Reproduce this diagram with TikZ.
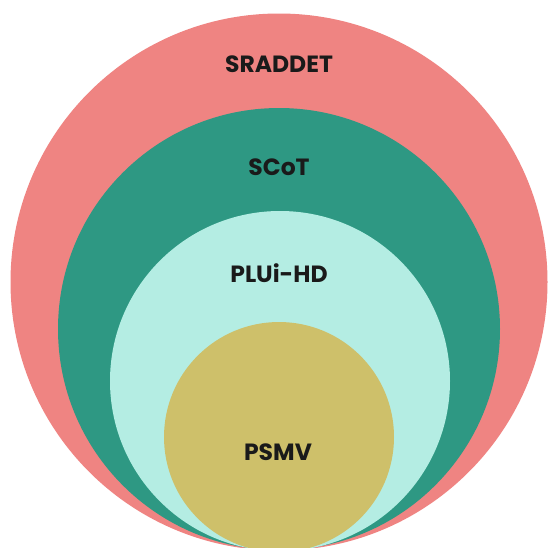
\documentclass[tikz,border=0pt]{standalone}
\usepackage{fontspec}
\setmainfont{Poppins}
\definecolor{salmon}{HTML}{EF8482}
\definecolor{tealc}{HTML}{2E9883}
\definecolor{mint}{HTML}{B4EDE3}
\definecolor{gold}{HTML}{CEC06A}
\definecolor{ink}{HTML}{1A1A1A}
\begin{document}
\begin{tikzpicture}[x=1pt,y=-1pt,
  ring/.style={circle,inner sep=0pt,draw=none},
  lbl/.style={font=\fontsize{23.5}{23.5}\selectfont\bfseries,text=ink,inner sep=0pt}]
\useasboundingbox (0,0) rectangle (549,547);
\clip (0,0) rectangle (549,547);
\fill[white] (0,0) rectangle (549,547);
\node[ring,fill=salmon,minimum size=537pt] (c1) at (279,282) {};
\node[ring,fill=tealc,minimum size=442pt] (c2) at (279,329) {};
\node[ring,fill=mint,minimum size=340pt] (c3) at (280,381) {};
\node[ring,fill=gold,minimum size=230pt] (c4) at (279,437) {};
\node[lbl] (t1) at (279,64) {SRADDET};
\node[lbl] (t2) at (279,167) {SCoT};
\node[lbl] (t3) at (279,273) {PLUi-HD};
\node[lbl] (t4) at (278,452) {PSMV};
\end{tikzpicture}
\end{document}
